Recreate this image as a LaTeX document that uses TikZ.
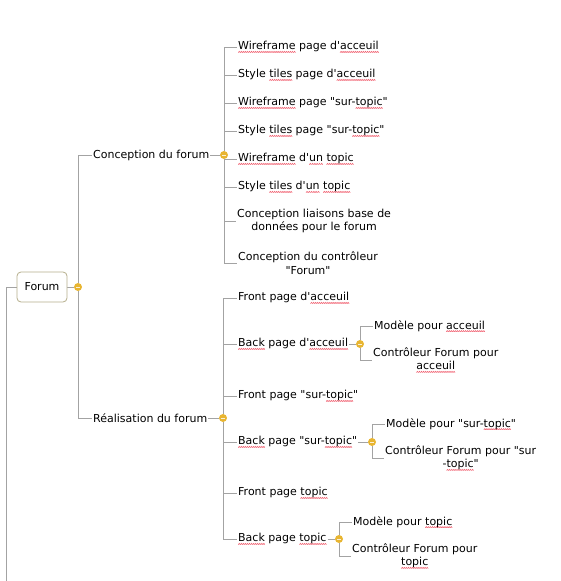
\documentclass[tikz,border=0pt]{standalone}
\usepackage{fontspec}
\usetikzlibrary{backgrounds}
\newfontfamily\uifont{DejaVu Sans}
\definecolor{linegray}{HTML}{A3A3A3}
\definecolor{togglegold}{HTML}{E8B531}
\definecolor{rootborder}{HTML}{B5AE8C}
\definecolor{sqred}{HTML}{F06070}
\newsavebox\wavebox
\sbox\wavebox{\begin{pgfpicture}\pgfpathrectangle{\pgfpointorigin}{\pgfpoint{2pt}{1.2pt}}\pgfusepath{use as bounding box}\pgfsetstrokecolor{sqred}\pgfsetlinewidth{0.6pt}\pgfpathmoveto{\pgfpoint{0pt}{0pt}}\pgfpathlineto{\pgfpoint{1pt}{1.2pt}}\pgfpathlineto{\pgfpoint{2pt}{0pt}}\pgfusepath{stroke}\end{pgfpicture}}
\newcommand\sq[1]{\leavevmode\setbox0=\hbox{#1}\rlap{\lower2.8pt\hbox to\wd0{\xleaders\copy\wavebox\hfill}}\box0\relax}
\tikzset{
  topic/.style={anchor=west, inner xsep=1pt, inner ysep=1pt, font=\uifont\fontsize{11}{13.5}\selectfont, align=center, text=black},
  rootbox/.style={draw=rootborder, rounded corners=4pt, fill=white, minimum width=50pt, minimum height=30pt, inner sep=0pt, font=\uifont\fontsize{11}{13.5}\selectfont, line width=0.8pt},
  toggle/.style={circle, fill=togglegold, minimum size=8pt, inner sep=0pt,
    path picture={\draw[white!80!togglegold, line width=1pt] ([xshift=-2.2pt]path picture bounding box.center) -- ([xshift=2.2pt]path picture bounding box.center);}},
  conn/.style={draw=linegray, line width=0.9pt},
}
\begin{document}
\begin{tikzpicture}[x=1pt, y=-1pt]
\useasboundingbox (0,0) rectangle (561,581);
% root
\node[rootbox] (root) at (42,287) {Forum};
\coordinate (pbot) at (6,581);
\node[toggle] (c0) at (78,287) {};
% main branches
\node[topic] (conc) at (92,155) {Conception du forum};
\node[topic] (real) at (92,418) {Réalisation du forum};
\node[toggle] (c1) at (224,155) {};
\node[toggle] (c2) at (223,418) {};
% Conception children
\node[topic] (a1) at (237,47) {\sq{Wireframe} page d'\sq{acceuil}};
\node[topic] (a2) at (237,75) {Style \sq{tiles} page d'\sq{acceuil}};
\node[topic] (a3) at (237,103) {\sq{Wireframe} page "sur-\sq{topic}"};
\node[topic] (a4) at (237,131) {Style \sq{tiles} page "sur-\sq{topic}"};
\node[topic] (a5) at (237,159) {\sq{Wireframe} d'\sq{un} \sq{topic}};
\node[topic] (a6) at (237,187) {Style \sq{tiles} d'\sq{un} \sq{topic}};
\node[topic] (a7) at (236,221) {Conception liaisons base de\\données pour le forum};
\node[topic] (a8) at (237,263) {Conception du contrôleur\\"Forum"};
% Réalisation children
\node[topic] (b1) at (237,298) {Front page d'\sq{acceuil}};
\node[topic] (b2) at (237,344) {\sq{Back} page d'\sq{acceuil}};
\node[topic] (b3) at (237,396) {Front page "sur-\sq{topic}"};
\node[topic] (b4) at (237,442) {\sq{Back} page "sur-\sq{topic}"};
\node[topic] (b5) at (237,493) {Front page \sq{topic}};
\node[topic] (b6) at (237,539) {\sq{Back} page \sq{topic}};
\node[toggle] (cb2) at (360,344) {};
\node[toggle] (cb4) at (372,442) {};
\node[toggle] (cb6) at (339,539) {};
% grandchildren
\node[topic] (b2a) at (373,326) {Modèle pour \sq{acceuil}};
\node[topic] (b2b) at (372,360) {Contrôleur Forum pour\\\sq{acceuil}};
\node[topic] (b4a) at (385,424) {Modèle pour "sur-\sq{topic}"};
\node[topic] (b4b) at (384,458) {Contrôleur Forum pour "sur\\-\sq{topic}"};
\node[topic] (b6a) at (352,522) {Modèle pour \sq{topic}};
\node[topic] (b6b) at (351,556) {Contrôleur Forum pour\\\sq{topic}};
% connectors
\begin{scope}[on background layer]
\draw[conn] (pbot) |- (root.west);
\draw[conn] (root.east) -- (c0);
\draw[conn] (c0) |- (conc.west);
\draw[conn] (c0) |- (real.west);
\draw[conn] (conc.east) -- (c1);
\draw[conn] (real.east) -- (c2);
\foreach \n in {a1,a2,a3,a4,a5,a6,a7,a8} \draw[conn] (c1) |- (\n.west);
\foreach \n in {b1,b2,b3,b4,b5,b6} \draw[conn] (c2) |- (\n.west);
\draw[conn] (b2.east) -- (cb2);
\draw[conn] (b4.east) -- (cb4);
\draw[conn] (b6.east) -- (cb6);
\foreach \n in {b2a,b2b} \draw[conn] (cb2) |- (\n.west);
\foreach \n in {b4a,b4b} \draw[conn] (cb4) |- (\n.west);
\foreach \n in {b6a,b6b} \draw[conn] (cb6) |- (\n.west);
\end{scope}
\end{tikzpicture}
\end{document}
